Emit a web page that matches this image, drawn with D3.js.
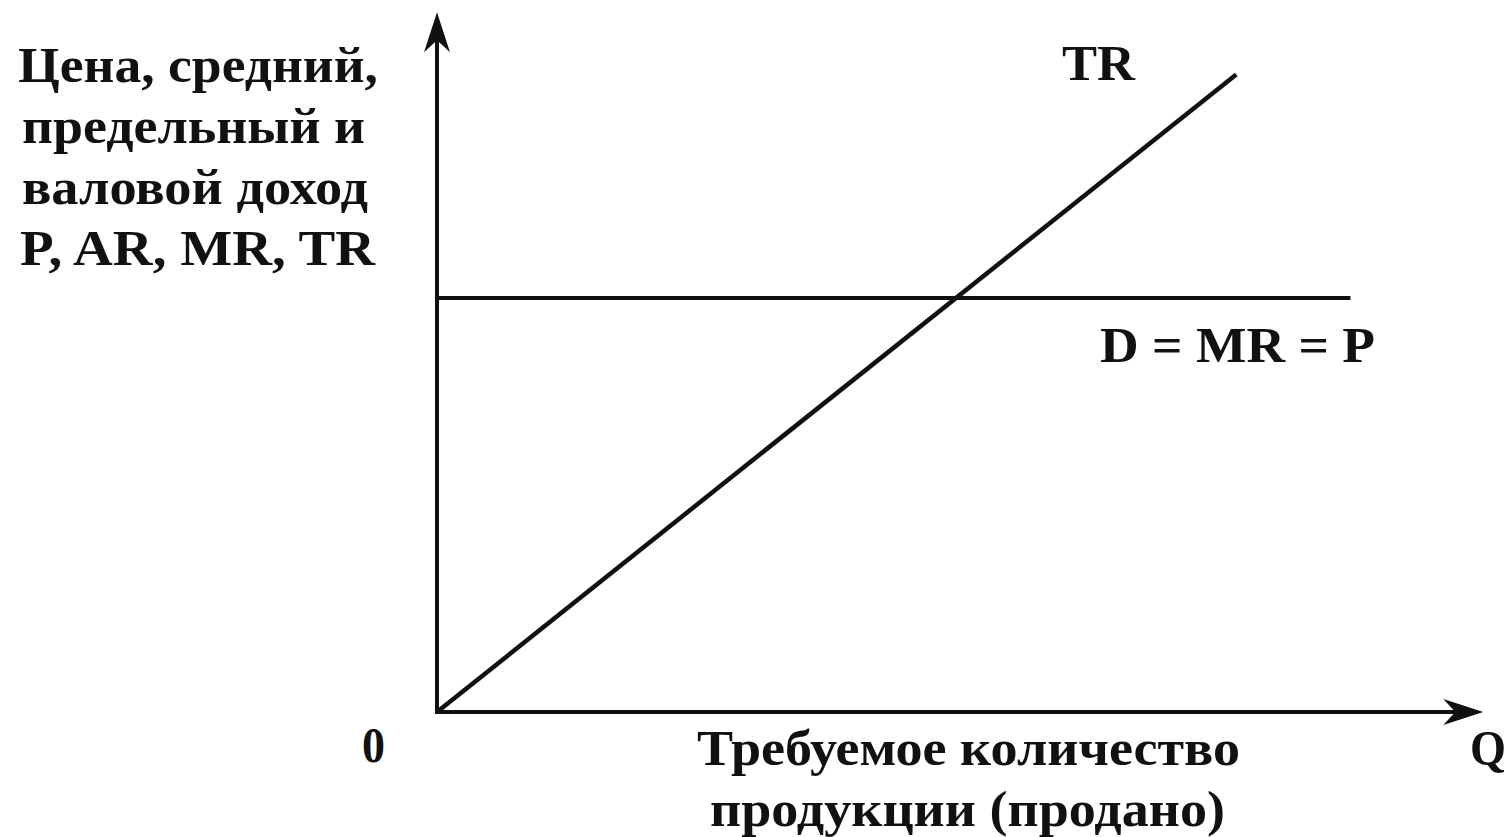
<!DOCTYPE html>
<html><head><meta charset="utf-8">
<script src="https://cdn.jsdelivr.net/npm/d3@7"></script>
<style>body{margin:0;background:#fff}text{font-family:"Liberation Serif","Times New Roman",serif;font-weight:bold;fill:#111}</style>
</head><body>
<svg id="c" width="1509" height="837"></svg>
<script>
// Data
const quantity = [0, 7.7];
const totalRevenue = [0, 7.7];        // TR = P*Q (rises linearly)
const priceQ = [0, 8.8];
const price = [5, 5];                 // D = MR = P (flat)
const yLabelLines = ["Цена, средний,", "предельный и", "валовой доход", "P, AR, MR, TR"];
const xLabelLines = ["Требуемое количество", "продукции (продано)"];
const seriesLabels = ["TR", "D = MR = P"];
const axisMax = {q: 10.08, y: 8.45};

const svg = d3.select("#c");
const x = d3.scaleLinear().domain([0, 10]).range([437, 437 + 1038]);
const y = d3.scaleLinear().domain([0, 5]).range([712, 298]);
const ink = "#111";
const fs = 50;

// axes
svg.append("line").attr("x1", x(0)).attr("y1", y(0)).attr("x2", x(0)).attr("y2", y(axisMax.y) + 20)
  .attr("stroke", ink).attr("stroke-width", 4);
svg.append("line").attr("x1", x(0) - 2).attr("y1", y(0)).attr("x2", x(axisMax.q) - 20).attr("y2", y(0))
  .attr("stroke", ink).attr("stroke-width", 4);
// arrowheads
const ty = y(axisMax.y), tx = x(axisMax.q);
svg.append("path").attr("d", `M${x(0)},${ty} L${x(0)-13},${ty+40} L${x(0)},${ty+28} L${x(0)+13},${ty+40} Z`).attr("fill", ink);
svg.append("path").attr("d", `M${tx},${y(0)} L${tx-40},${y(0)-13} L${tx-28},${y(0)} L${tx-40},${y(0)+13} Z`).attr("fill", ink);

const line = d3.line().x(d => x(d[0])).y(d => y(d[1]));
svg.append("path").attr("d", line(quantity.map((q, i) => [q, totalRevenue[i]])))
  .attr("stroke", ink).attr("stroke-width", 4.5).attr("fill", "none");
svg.append("path").attr("d", line(priceQ.map((q, i) => [q, price[i]])))
  .attr("stroke", ink).attr("stroke-width", 4).attr("fill", "none");

function label(t, x0, y0, w) {
  const el = svg.append("text").attr("x", x0).attr("y", y0).attr("font-size", fs).text(t);
  if (w) el.attr("textLength", w).attr("lengthAdjust", "spacingAndGlyphs");
  return el;
}
// labels
label(seriesLabels[0], 1062, 80, 73);
label(seriesLabels[1], 1100, 362, 275);
label("0", 362, 762, 23);
label("Q", 1470, 765, 36);

const yW = [[18, 360], [22, 343], [22, 346], [20, 355]];
yLabelLines.forEach((t, i) => label(t, yW[i][0], 82 + i * 61, yW[i][1]));
const xW = [[697, 543], [710, 515]];
xLabelLines.forEach((t, i) => label(t, xW[i][0], 765 + i * 61, xW[i][1]));
</script>
</body></html>
